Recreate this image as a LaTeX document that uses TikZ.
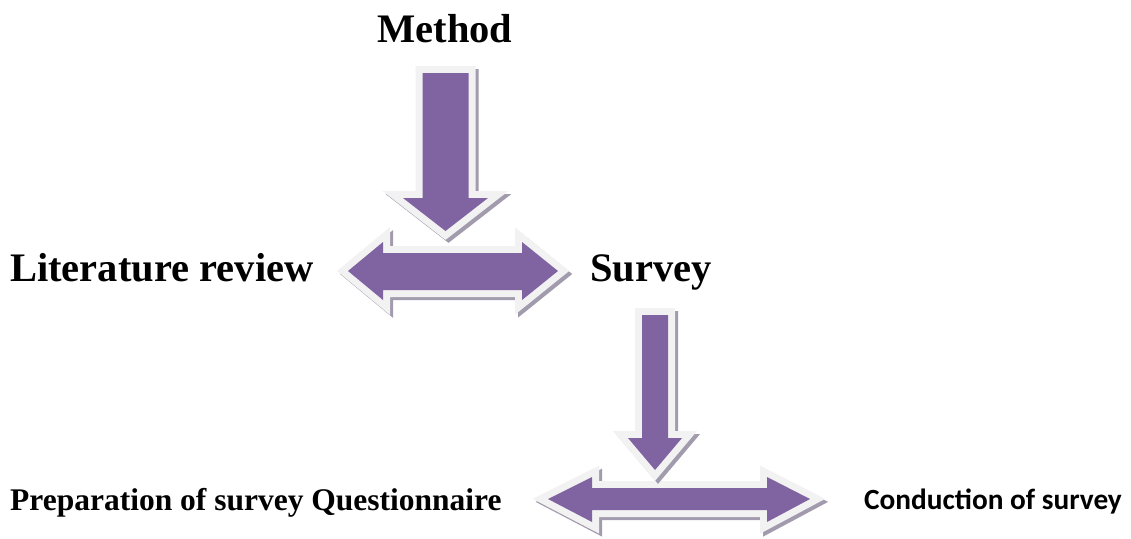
\documentclass[tikz,border=0pt]{standalone}
\usepackage{fontspec}
\setmainfont{Liberation Serif}
\newfontfamily\calibfont{Carlito}
\definecolor{arrpurple}{HTML}{8064A2}
\definecolor{arrborder}{HTML}{F2F2F2}
\definecolor{arrshadow}{HTML}{A29BAD}
\newcommand\fancyshape[1]{%
  \path[arrshade] #1 -- cycle;
  \path[arrrim] #1 -- cycle;
  \path[arrbody] #1 -- cycle;
}
\begin{document}
\begin{tikzpicture}[x=1pt,y=-1pt,
  arrshade/.style={fill=arrshadow,draw=arrshadow,line width=14pt,line join=miter,shift={(3,3)}},
  arrrim/.style={fill=arrborder,draw=arrborder,line width=14pt,line join=miter},
  arrbody/.style={fill=arrpurple},
  bigserif/.style={inner sep=0pt,font=\fontsize{40.5}{44}\selectfont\bfseries},
  midserif/.style={inner sep=0pt,font=\fontsize{31.5}{36}\selectfont\bfseries},
  sanslabel/.style={inner sep=0pt,font=\calibfont\fontsize{29.3}{32}\selectfont\bfseries}]
\useasboundingbox[fill=white] (0,0) rectangle (1131,538);

% double arrow 1
\fancyshape{(348,271) -- (383,242) -- (383,253) -- (522,253) -- (522,242) -- (558,271) -- (522,300) -- (522,290) -- (383,290) -- (383,300)}
% down arrow 1
\fancyshape{(422.5,73) -- (468.5,73) -- (468.5,198) -- (488,198) -- (445.5,231) -- (403,198) -- (422.5,198)}
% double arrow 2
\fancyshape{(548,499) -- (592,477) -- (592,488) -- (767,488) -- (767,477) -- (810,499) -- (767,522) -- (767,510) -- (592,510) -- (592,522)}
% down arrow 2
\fancyshape{(642,315) -- (668,315) -- (668,438) -- (682,438) -- (655,470) -- (628,438) -- (642,438)}

\node[bigserif,anchor=base] (method) at (445,42) {Method};
\node[bigserif,anchor=base west] (lit) at (10,281) {Literature review};
\node[bigserif,anchor=base west] (survey) at (590,281) {Survey};
\node[midserif,anchor=base west] (prep) at (10,510) {Preparation of survey Questionnaire};
\node[sanslabel,anchor=base west] (cond) at (864,509) {Conduction of survey};
\end{tikzpicture}
\end{document}
